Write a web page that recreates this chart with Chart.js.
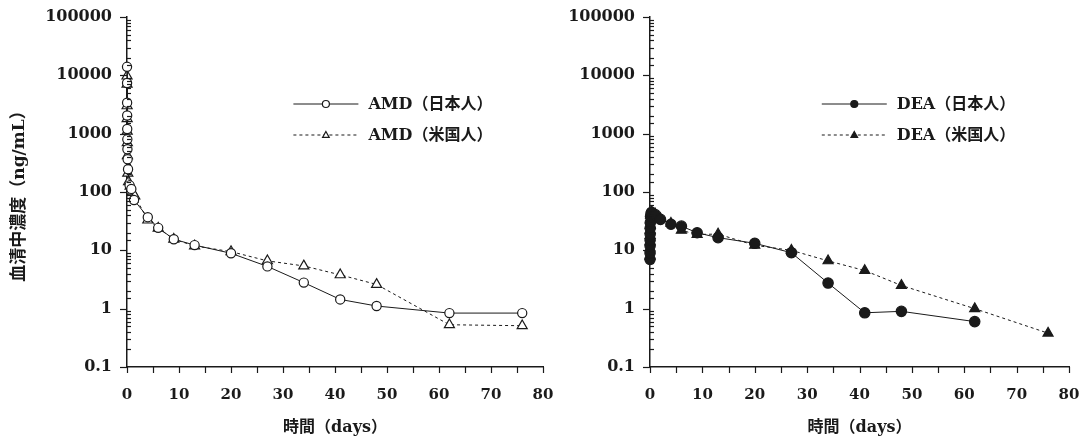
<!DOCTYPE html>
<html><head><meta charset="utf-8">
<script src="https://cdn.jsdelivr.net/npm/chart.js@4.4.0/dist/chart.umd.min.js"></script>
<style>
html,body{margin:0;padding:0;background:#fff;}
#wrap{position:relative;width:1091px;height:440px;overflow:hidden;background:#fff;}
#c1box{position:absolute;left:0;top:0;width:562px;height:440px;}
#c2box{position:absolute;left:548px;top:0;width:543px;height:440px;}
</style></head><body>
<div id="wrap"><div id="c1box"><canvas id="c1"></canvas></div><div id="c2box"><canvas id="c2"></canvas></div></div>
<script>
// ---- data (time in days, concentration in ng/mL) ----
const amdJpDays = [0.005,0.012,0.02,0.03,0.04,0.06,0.08,0.12,0.2,0.5,0.83,1.35,4,6,9,13,20,27,34,41,48,62,76];
const amdJpConc = [14000,7400,3400,2050,1200,800,540,365,245,130,113,73,37,24.3,15.5,12.3,8.9,5.3,2.8,1.44,1.11,0.84,0.84];
const amdUsDays = [0.005,0.012,0.02,0.03,0.04,0.06,0.08,0.15,0.3,0.6,1,1.5,4,6,9,13,20,27,34,41,48,62,76];
const amdUsConc = [9700,7000,3000,1800,1100,700,420,210,150,125,100,85,33,24,15.5,11.9,9.5,6.6,5.4,3.8,2.6,0.53,0.51];
const deaJpDays = [0.005,0.01,0.015,0.02,0.03,0.04,0.06,0.1,0.2,0.3,1,2,4,6,9,13,20,27,34,41,48,62];
const deaJpConc = [7,9,12,15,19,24,30,38,43,45,41,34,28,26,20,16.5,13.2,9.1,2.75,0.85,0.9,0.6];
const deaUsDays = [0.005,0.01,0.015,0.02,0.03,0.05,0.08,0.12,0.2,0.3,1,2,4,6,9,13,20,27,34,41,48,62,76];
const deaUsConc = [8,11,14,18,22,27,33,40,44,46,42,35,29,22,18.7,19,12.2,10,6.6,4.5,2.5,1.0,0.38];

const labelsLeft = ['AMD（日本人）','AMD（米国人）'];
const labelsRight = ['DEA（日本人）','DEA（米国人）'];
const xTitle = '時間（days）';
const yTitle = '血清中濃度（ng/mL）';
const yMin = 0.1, yMax = 100000, xMin = 0, xMax = 80, xStep = 5;

const FONT = '"DejaVu Serif", "Noto Sans CJK JP", serif';
const INK = '#1a1a1a';

function pts(xs, ys){ return xs.map((x,i)=>({x:x, y:ys[i]})); }

const tickPlugin = {
  id:'customTicks',
  afterDraw(chart){
    const ctx = chart.ctx, ys = chart.scales.y, xs = chart.scales.x;
    ctx.save(); ctx.strokeStyle = INK; ctx.lineWidth = 1.2;
    ys.ticks.forEach(t=>{
      const v = t.value, y = Math.round(ys.getPixelForValue(v))+0.5;
      const lg = Math.log10(v), major = Math.abs(lg-Math.round(lg))<1e-6;
      ctx.beginPath();
      if (major){ ctx.moveTo(ys.right-7,y); ctx.lineTo(ys.right,y); }
      else { ctx.moveTo(ys.right,y); ctx.lineTo(ys.right+4,y); }
      ctx.stroke();
    });
    xs.ticks.forEach(t=>{
      const x = Math.round(xs.getPixelForValue(t.value))+0.5;
      ctx.beginPath(); ctx.moveTo(x,xs.top); ctx.lineTo(x,xs.top+6); ctx.stroke();
    });
    ctx.restore();
  }
};

const legendPlugin = {
  id:'customLegend',
  afterDraw(chart, args, opts){
    const ctx = chart.ctx, a = chart.chartArea;
    const x0 = a.left + opts.fx*(a.right-a.left);
    chart.data.datasets.forEach((ds,i)=>{
      const y = a.top + opts.top + i*opts.gap;
      ctx.save();
      ctx.strokeStyle = ds.borderColor; ctx.lineWidth = ds.borderWidth;
      ctx.setLineDash(ds.borderDash || []);
      ctx.beginPath(); ctx.moveTo(x0,y); ctx.lineTo(x0+opts.len,y); ctx.stroke();
      ctx.setLineDash([]);
      const cx = x0+opts.len/2, r = opts.r;
      ctx.fillStyle = ds.pointBackgroundColor; ctx.strokeStyle = ds.pointBorderColor; ctx.lineWidth = 1.2;
      ctx.beginPath();
      if (ds.pointStyle === 'triangle'){
        ctx.moveTo(cx, y-r); ctx.lineTo(cx+r*0.95, y+r*0.7); ctx.lineTo(cx-r*0.95, y+r*0.7); ctx.closePath();
      } else { ctx.arc(cx, y, r, 0, Math.PI*2); }
      ctx.fill(); ctx.stroke();
      ctx.fillStyle = INK; ctx.font = 'bold 16px ' + FONT; ctx.textBaseline = 'middle'; ctx.textAlign = 'left';
      ctx.fillText(ds.label, x0+opts.len+10, y+1);
      ctx.restore();
    });
  }
};

function makeChart(id, datasets, yWidth, padRight, showYTitle, legendFx){
  return new Chart(document.getElementById(id), {
    type:'scatter',
    data:{ datasets: datasets },
    plugins:[tickPlugin, legendPlugin],
    options:{
      responsive:true, maintainAspectRatio:false, animation:false,
      layout:{ autoPadding:false, padding:{ top:17, right:padRight, bottom:0, left:0 } },
      elements:{ line:{ tension:0 } },
      plugins:{
        legend:{ display:false }, tooltip:{ enabled:false },
        customLegend:{ fx:legendFx, top:87, gap:31, len:65, r:3.5 }
      },
      scales:{
        x:{
          type:'linear', min:xMin, max:xMax,
          afterFit(s){ s.height = 73; s.paddingLeft = 0; s.paddingRight = 0; },
          grid:{ display:false },
          border:{ display:true, color:INK, width:1.5 },
          ticks:{ stepSize:xStep, autoSkip:false, maxRotation:0, padding:11, color:INK,
            font:{ family:FONT, weight:'bold', size:15 },
            callback:(v)=> (v % 10 === 0 ? String(v) : '') },
          title:{ display:true, text:xTitle, color:INK, padding:{ top:0, bottom:3 },
            font:{ family:FONT, weight:'bold', size:16 } }
        },
        y:{
          type:'logarithmic', min:yMin, max:yMax,
          afterFit(s){ s.width = yWidth; s.paddingTop = 0; s.paddingBottom = 0; },
          grid:{ display:false },
          border:{ display:true, color:INK, width:1.5 },
          ticks:{ autoSkip:false, padding:7, color:INK,
            font:{ family:FONT, weight:'bold', size:16 },
            callback:(v)=>{ const lg = Math.log10(v); return Math.abs(lg-Math.round(lg))<1e-6 ? String(Number(v.toPrecision(2))) : ''; } },
          title:{ display:showYTitle, text:yTitle, color:INK, padding:{ top:9, bottom:0 },
            font:{ family:FONT, weight:'bold', size:17 } }
        }
      }
    }
  });
}

function ds(label, data, dashed, style, filled, r){
  return {
    label: label, data: data, showLine:true, clip:false,
    borderColor: INK, borderWidth: 1, borderDash: dashed ? [3,3] : [],
    pointStyle: style, pointRadius: r, pointBorderWidth: 1.2,
    pointBackgroundColor: filled ? INK : '#fff', pointBorderColor: INK
  };
}

makeChart('c1', [
  ds(labelsLeft[0], pts(amdJpDays, amdJpConc), false, 'circle', false, 4.6),
  ds(labelsLeft[1], pts(amdUsDays, amdUsConc), true, 'triangle', false, 5.8)
], 127, 19, true, 0.40);

makeChart('c2', [
  ds(labelsRight[0], pts(deaJpDays, deaJpConc), false, 'circle', true, 5.2),
  ds(labelsRight[1], pts(deaUsDays, deaUsConc), true, 'triangle', true, 5.8)
], 102, 22, false, 0.41);
</script>
</body></html>
